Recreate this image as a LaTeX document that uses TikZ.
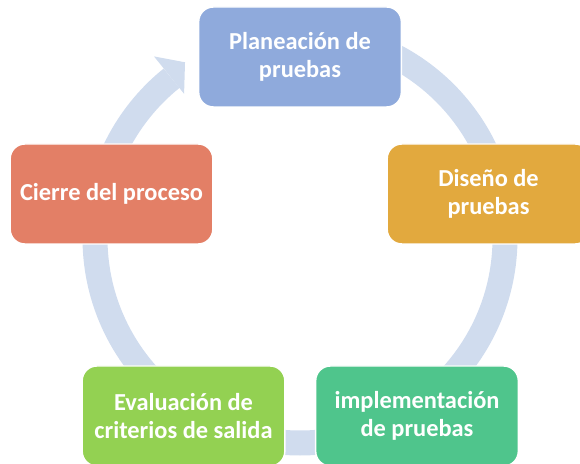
\documentclass[tikz,border=0pt]{standalone}
\usepackage{fontspec}
\setmainfont{Carlito}
\definecolor{cplan}{HTML}{8FAADC}
\definecolor{cdis}{HTML}{E2A93E}
\definecolor{ccie}{HTML}{E37F66}
\definecolor{ceva}{HTML}{93D152}
\definecolor{cimp}{HTML}{4FC58C}
\definecolor{cring}{HTML}{D0DCEE}
\tikzset{
  every picture/.style={line width=1.1pt},
  box/.style={fill=#1, draw=white, rounded corners=11pt, text=white, align=center, inner sep=4pt,
    font=\fontsize{18.3}{20.6}\selectfont\bfseries, minimum width=152pt, minimum height=75pt},
  box/.default=cplan,
  ring/.style={draw=cring, line width=18.75pt},
}
\begin{document}
\begin{tikzpicture}[x=0.75pt, y=0.75pt]
  \useasboundingbox (0,0) rectangle (580,463);
  \clip (0,0) rectangle (580,463);
  \coordinate (hub) at (300,225);
  % cycle ring behind the boxes
  \draw[ring] ([shift={(90:205)}]hub) arc[start angle=90, end angle=-231.2, radius=205];
  \fill[cring] ([shift={(128.8:233)}]hub) -- ([shift={(123.2:210)}]hub) -- ([shift={(128.8:185)}]hub) -- cycle;
  % stages
  \node[box=cplan] (plan) at (300,406) {Planeación de\\pruebas};
  \node[box=cdis] (dis) at (488.5,269) {Diseño de\\pruebas};
  \node[box=cimp] (imp) at (417,47) {implementación\\de pruebas};
  \node[box=ceva] (eva) at (183.5,47) {Evaluación de\\criterios de salida};
  \node[box=ccie] (cie) at (111.5,269) {Cierre del proceso};
\end{tikzpicture}
\end{document}
